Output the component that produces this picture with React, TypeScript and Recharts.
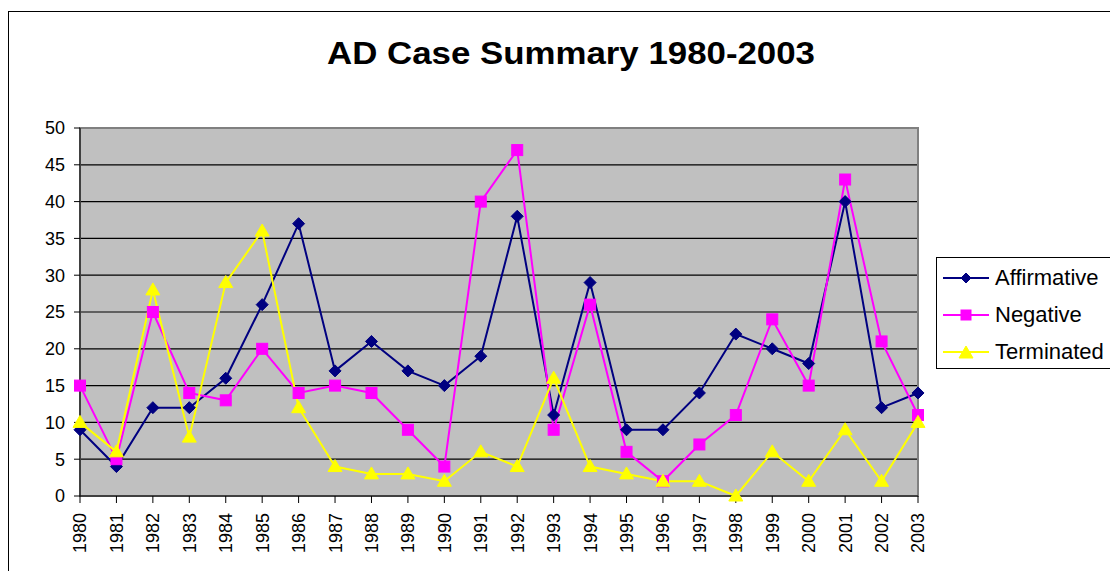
import { LineChart, Line, XAxis, YAxis, CartesianGrid, ReferenceArea } from 'recharts';

const years = ['1980', '1981', '1982', '1983', '1984', '1985', '1986', '1987', '1988', '1989', '1990', '1991',
  '1992', '1993', '1994', '1995', '1996', '1997', '1998', '1999', '2000', '2001', '2002', '2003'];
const affirmative = [9, 4, 12, 12, 16, 26, 37, 17, 21, 17, 15, 19, 38, 11, 29, 9, 9, 14, 22, 20, 18, 40, 12, 14];
const negative = [15, 5, 25, 14, 13, 20, 14, 15, 14, 9, 4, 40, 47, 9, 26, 6, 2, 7, 11, 24, 15, 43, 21, 11];
const terminated = [10, 6, 28, 8, 29, 36, 12, 4, 3, 3, 2, 6, 4, 16, 4, 3, 2, 2, 0, 6, 2, 9, 2, 10];
const yTicks = [0, 5, 10, 15, 20, 25, 30, 35, 40, 45, 50];

const data = years.map((year, i) => ({
  year,
  affirmative: affirmative[i],
  negative: negative[i],
  terminated: terminated[i],
}));

const FONT = "Arial, 'Liberation Sans', sans-serif";
const NAVY = '#000080';
const MAGENTA = '#FF00FF';
const YELLOW = '#FFFF00';

// marker shapes, Excel style
const diamond = (cx: number, cy: number, color: string, r = 6) => (
  <polygon points={`${cx},${cy - r} ${cx + r},${cy} ${cx},${cy + r} ${cx - r},${cy}`} fill={color} stroke={color} />
);
const square = (cx: number, cy: number, color: string, s = 5.5) => (
  <rect x={cx - s} y={cy - s} width={s * 2} height={s * 2} fill={color} stroke={color} />
);
const triangle = (cx: number, cy: number, color: string) => (
  <polygon points={`${cx},${cy - 7} ${cx - 7},${cy + 5} ${cx + 7},${cy + 5}`} fill={color} stroke={color} />
);

const DiamondDot = (props: any) => {
  const { cx, cy, index } = props;
  if (cx == null || cy == null) return null;
  return <g key={`d-${index}`}>{diamond(cx, cy, NAVY)}</g>;
};
const SquareDot = (props: any) => {
  const { cx, cy, index } = props;
  if (cx == null || cy == null) return null;
  return <g key={`s-${index}`}>{square(cx, cy, MAGENTA)}</g>;
};
const TriangleDot = (props: any) => {
  const { cx, cy, index } = props;
  if (cx == null || cy == null) return null;
  return <g key={`t-${index}`}>{triangle(cx, cy, YELLOW)}</g>;
};

const YearTick = (props: any) => {
  const { x, y, payload } = props;
  return (
    <g transform={`translate(${x},${y})`}>
      <text transform="rotate(-90)" textAnchor="end" dy="0.36em" fontSize={18} fontFamily={FONT} fill="#000">
        {payload.value}
      </text>
    </g>
  );
};

const legendItems = [
  { label: 'Affirmative', color: NAVY, marker: 'diamond' },
  { label: 'Negative', color: MAGENTA, marker: 'square' },
  { label: 'Terminated', color: YELLOW, marker: 'triangle' },
];

const ChartLegend = () => (
  <div
    style={{
      position: 'absolute',
      left: 936,
      top: 257,
      width: 200,
      height: 112,
      border: '1px solid #000',
      background: '#fff',
      boxSizing: 'border-box',
      paddingTop: 1,
      fontFamily: FONT,
      fontSize: 22,
      color: '#000',
    }}
  >
    {legendItems.map((item) => (
      <div key={item.label} style={{ height: 37, display: 'flex', alignItems: 'center' }}>
        <svg width={46} height={16} style={{ marginLeft: 6, overflow: 'visible' }}>
          <line x1={0} y1={8} x2={46} y2={8} stroke={item.color} strokeWidth={2} />
          {item.marker === 'diamond' && diamond(23, 8, item.color, 5)}
          {item.marker === 'square' && square(23, 8, item.color, 5)}
          {item.marker === 'triangle' && triangle(23, 9, item.color)}
        </svg>
        <span style={{ marginLeft: 6, whiteSpace: 'nowrap' }}>{item.label}</span>
      </div>
    ))}
  </div>
);

export default function App() {
  return (
    <div style={{ position: 'absolute', left: 0, top: 0, width: 1110, height: 571, overflow: 'hidden', background: '#fff' }}>
      {/* outer chart frame, runs off the right and bottom edges */}
      <div style={{ position: 'absolute', left: 8, top: 11, width: 1200, height: 700, border: '1px solid #000' }} />
      <svg width={1110} height={80} style={{ position: 'absolute', left: 0, top: 0 }}>
        <text
          x={327}
          y={64}
          textLength={488}
          lengthAdjust="spacingAndGlyphs"
          fontSize={31}
          fontWeight="bold"
          fontFamily={FONT}
          fill="#000"
        >
          AD Case Summary 1980-2003
        </text>
      </svg>
      <div style={{ position: 'absolute', left: 0, top: 0 }}>
        <LineChart width={1110} height={571} data={data} margin={{ top: 128, right: 192, left: 20, bottom: 15 }}>
          <CartesianGrid vertical={false} stroke="#000" strokeWidth={1.2} fill="#C0C0C0" />
          <ReferenceArea x1="1980" x2="2003" y1={0} y2={50} fill="none" stroke="#808080" strokeWidth={2} />
          <XAxis
            dataKey="year"
            interval={0}
            tickSize={7}
            tickMargin={10}
            stroke="#000"
            tick={<YearTick />}
            height={60}
          />
          <YAxis
            domain={[0, 50]}
            ticks={yTicks}
            interval={0}
            width={60}
            tickSize={6}
            tickMargin={9}
            stroke="#000"
            tick={{ fill: '#000', fontSize: 18, fontFamily: FONT }}
          />
          <Line
            type="linear"
            dataKey="affirmative"
            name="Affirmative"
            stroke={NAVY}
            strokeWidth={2}
            dot={DiamondDot}
            isAnimationActive={false}
          />
          <Line
            type="linear"
            dataKey="negative"
            name="Negative"
            stroke={MAGENTA}
            strokeWidth={2}
            dot={SquareDot}
            isAnimationActive={false}
          />
          <Line
            type="linear"
            dataKey="terminated"
            name="Terminated"
            stroke={YELLOW}
            strokeWidth={2}
            dot={TriangleDot}
            isAnimationActive={false}
          />
        </LineChart>
      </div>
      <ChartLegend />
    </div>
  );
}
